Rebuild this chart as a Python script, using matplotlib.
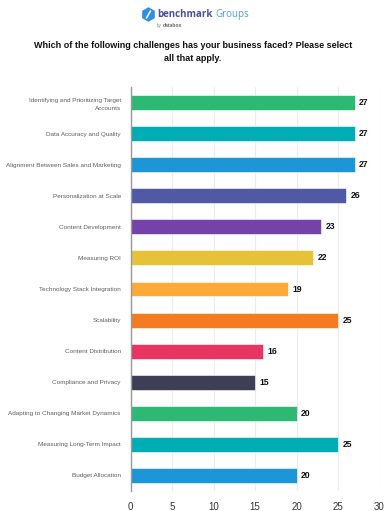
import matplotlib
matplotlib.use("Agg")
import matplotlib.pyplot as plt
import numpy as np
from matplotlib.patches import RegularPolygon

categories = [
    "Identifying and Prioritizing Target\nAccounts",
    "Data Accuracy and Quality",
    "Alignment Between Sales and Marketing",
    "Personalization at Scale",
    "Content Development",
    "Measuring ROI",
    "Technology Stack Integration",
    "Scalability",
    "Content Distribution",
    "Compliance and Privacy",
    "Adapting to Changing Market Dynamics",
    "Measuring Long-Term Impact",
    "Budget Allocation",
]
values = [27, 27, 27, 26, 23, 22, 19, 25, 16, 15, 20, 25, 20]
colors = ["#2db873", "#00adb5", "#1c96d6", "#5059a6", "#7642a8", "#e6c236",
          "#fdaa36", "#f47b22", "#e8355f", "#3e3f55", "#2db873", "#00adb5", "#1c96d6"]
xticks = [0, 5, 10, 15, 20, 25, 30]

plt.rcParams['font.family'] = ['Liberation Sans', 'DejaVu Sans']

fig = plt.figure(figsize=(3.86, 5.11), dpi=100)
ax = fig.add_axes([130.5/386, 1-491/511, 249/386, 404/511])

y = np.arange(len(categories))
ax.barh(y, values, height=0.48, color=colors, edgecolor="white", linewidth=0.4, zorder=3)
for yi, v in zip(y, values):
    ax.text(v + 0.55, yi, str(v), va="center", ha="left", fontsize=6.2,
            fontweight="bold", color="#111111", zorder=4)

ax.set_ylim(len(categories) - 0.5, -0.5)
ax.set_xlim(0, 30)
ax.set_xticks(xticks)
ax.set_xticklabels([str(t) for t in xticks], fontsize=7, color="#333333")
ax.set_yticks(y)
ax.set_yticklabels(categories, fontsize=4.6, color="#5f5f5f", linespacing=1.65)
ax.tick_params(axis="both", length=0)
ax.tick_params(axis="x", pad=8)
ax.tick_params(axis="y", pad=7)
for lab in ax.get_yticklabels():
    lab.set_horizontalalignment("right")
    lab.set_multialignment("right")
ax.grid(axis="x", color="#ececec", linewidth=0.8, zorder=0)
for s in ["top", "right", "bottom"]:
    ax.spines[s].set_visible(False)
ax.spines["left"].set_color("#999999")
ax.spines["left"].set_linewidth(1.0)
ax.spines["left"].set_zorder(5)

# Title
fig.text(0.5, 1-46/511, "Which of the following challenges has your business faced? Please select",
         ha="center", va="center", fontsize=6.5, fontweight="bold", color="#111111")
fig.text(0.5, 1-58.5/511, "all that apply.", ha="center", va="center",
         fontsize=6.5, fontweight="bold", color="#111111")

# Logo
hex_ax = fig.add_axes([0, 0, 1, 1], facecolor="none")
hex_ax.set_xlim(0, 386)
hex_ax.set_ylim(511, 0)
hex_ax.axis("off")
hex_ax.add_patch(RegularPolygon((148.5, 14.5), numVertices=6, radius=6.5,
                                orientation=0, color="#2f8fe0"))
hex_ax.plot([146.5, 150.5], [18, 11], color="white", linewidth=1.2, solid_capstyle="round")
hex_ax.text(157, 14.5, "benchmark", ha="left", va="center", fontsize=7,
            fontweight="bold", color="#4b4fa2", family=["Open Sans", "DejaVu Sans"])
hex_ax.text(215, 15, "Groups", ha="left", va="center", fontsize=7,
            color="#4aa3e3", family=["Open Sans", "DejaVu Sans"])
hex_ax.text(157, 25.5, "by", ha="left", va="center", fontsize=3.3, color="#888888")
hex_ax.text(162.5, 25.5, "databox", ha="left", va="center", fontsize=3.6,
            fontweight="bold", color="#666666")

fig.savefig("out.png", dpi=100)
